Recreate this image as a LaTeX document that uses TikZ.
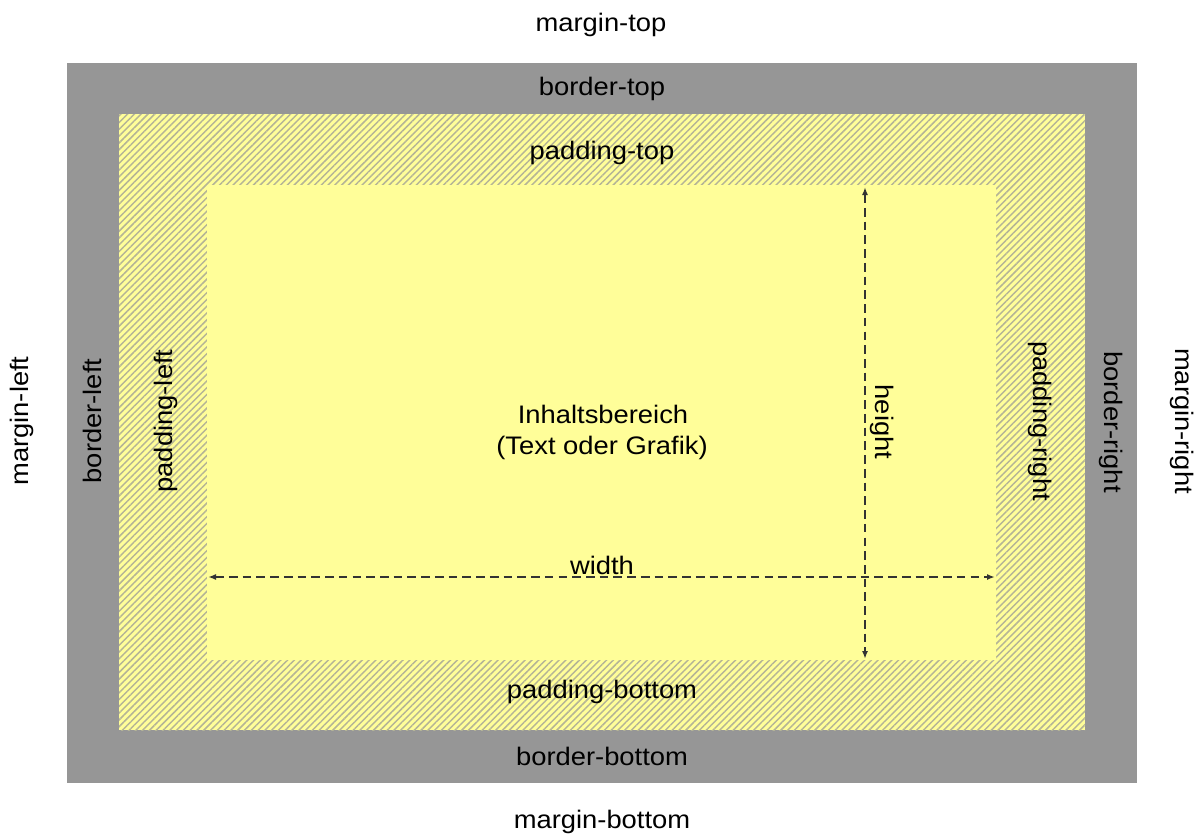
\documentclass[tikz,border=0pt]{standalone}
\usepackage{fontspec}
\setmainfont{Liberation Sans}[FakeStretch=1.08]
\usetikzlibrary{patterns.meta,arrows.meta}
\definecolor{bordergray}{HTML}{969696}
\definecolor{padyellow}{HTML}{FFFE99}
\definecolor{hatchgray}{HTML}{B4B496}
\definecolor{dimline}{HTML}{333333}
\tikzset{
  lbl/.style={inner sep=0pt, font=\fontsize{19}{22}\selectfont, text=black},
  lblup/.style={lbl, rotate=90},
  lbldown/.style={lbl, rotate=-90},
  dim/.style={draw=dimline, line width=1.2pt, dash pattern=on 6.5pt off 3.8pt,
    {Latex[length=6pt,width=4.5pt]}-{Latex[length=6pt,width=4.5pt]}},
}
\begin{document}
\begin{tikzpicture}[x=0.75pt,y=-0.75pt]
\useasboundingbox (0,0) rectangle (1197,839);
\fill[white] (0,0) rectangle (1197,839);
% border
\fill[bordergray] (67,63) rectangle (1137,783);
% padding
\fill[padyellow] (119,114) rectangle (1085,730);
\fill[pattern={Lines[angle=45,distance=3.6pt,line width=1.1pt]}, pattern color=hatchgray] (119,114) rectangle (1085,730);
% content
\fill[padyellow] (207,185) rectangle (996,660);
% dimension arrows
\coordinate (wl) at (208,577);
\coordinate (wr) at (995,577);
\coordinate (ht) at (865,187);
\coordinate (hb) at (865,659);
\draw[dim] (wl) -- (wr);
\draw[dim] (ht) -- (hb);
% labels
\node[lbl] (mt) at (601,25) {margin-top};
\node[lbl] (bt) at (602,89) {border-top};
\node[lbl] (pt) at (602,153) {padding-top};
\node[lbl] (c1) at (603,414) {Inhaltsbereich};
\node[lbl] (c2) at (602,448) {(Text oder Grafik)};
\node[lbl] (w) at (602,565) {width};
\node[lbl] (pb) at (602,692) {padding-bottom};
\node[lbl] (bb) at (602,756) {border-bottom};
\node[lbl] (mb) at (602,822) {margin-bottom};
\node[lblup] (ml) at (22,421) {margin-left};
\node[lblup] (bl) at (92,421) {border-left};
\node[lblup] (pl) at (166,421) {padding-left};
\node[lbldown] (h) at (882,422) {height};
\node[lbldown] (pr) at (1040,421) {padding-right};
\node[lbldown] (br) at (1111,422) {border-right};
\node[lbldown] (mr) at (1182,421) {margin-right};
\end{tikzpicture}
\end{document}
